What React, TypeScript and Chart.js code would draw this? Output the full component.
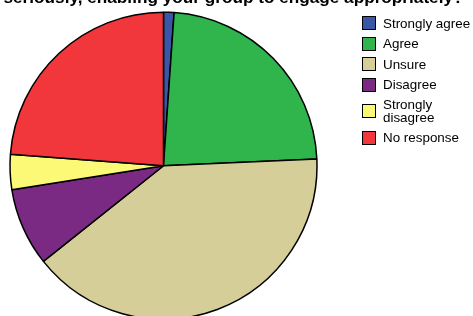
import React, { useEffect, useRef } from "react";
import { Chart, registerables } from "chart.js";

Chart.register(...registerables);

const categories = ["Strongly agree", "Agree", "Unsure", "Disagree", "Strongly disagree", "No response"];
const values = [1.1, 23.2, 40.0, 8.2, 3.7, 23.8];
const colors = ["#3b56a6", "#2fb54b", "#d5ce99", "#7a2a83", "#fcf977", "#f1363c"];
const titleText = "seriously, enabling your group to engage appropriately?";

const FONT = "'Liberation Sans', Arial, sans-serif";

export default function App() {
  const ref = useRef<HTMLCanvasElement | null>(null);
  useEffect(() => {
    if (!ref.current) return;
    const chart = new Chart(ref.current, {
      type: "pie",
      data: {
        labels: categories,
        datasets: [
          {
            data: values,
            backgroundColor: colors,
            borderColor: "#000000",
            borderWidth: 1.5,
          },
        ],
      },
      options: {
        responsive: false,
        animation: false,
        layout: { padding: { left: 9, right: 155, top: 11.5, bottom: 0 } },
        plugins: {
          legend: { display: false },
          tooltip: { enabled: false },
          title: { display: false },
        },
      },
    });
    return () => chart.destroy();
  }, []);

  return (
    <div style={{ position: "fixed", left: 0, top: 0, width: 473, height: 316, overflow: "hidden", background: "#fff" }}>
      <canvas ref={ref} width={473} height={320} style={{ position: "absolute", left: 0, top: 0, width: 473, height: 320 }} />
      <div
        style={{
          position: "absolute",
          left: 0,
          top: -13,
          width: 467,
          textAlign: "center",
          whiteSpace: "nowrap",
          fontFamily: FONT,
          fontWeight: "bold",
          fontSize: 17.2,
          lineHeight: "20px",
          color: "#000",
        }}
      >
        {titleText}
      </div>
      <div style={{ position: "absolute", left: 362, top: 16, width: 111, fontFamily: FONT, fontSize: 13.4, lineHeight: "13px", color: "#000" }}>
        {categories.map((c, i) => (
          <div key={c} style={{ display: "flex", alignItems: "center", marginBottom: 6.5 }}>
            <div style={{ width: 12, height: 12, border: "1px solid #000", background: colors[i], flex: "0 0 auto", marginRight: 7 }} />
            <div style={{ width: 90 }}>{c}</div>
          </div>
        ))}
      </div>
    </div>
  );
}
